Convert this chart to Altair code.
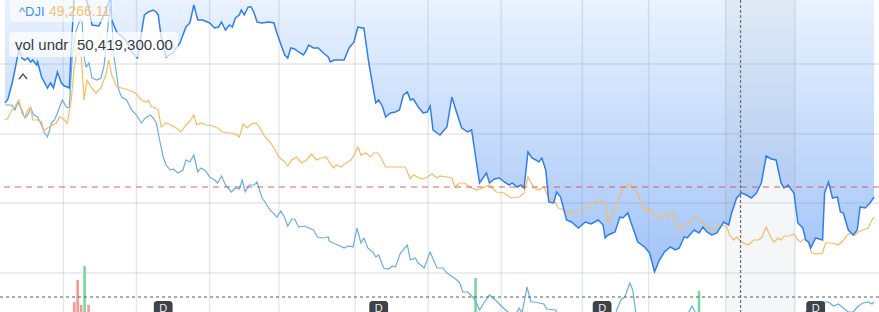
import altair as alt
import pandas as pd

W, H = 879, 312

# ---- series (x = session position, y = level, 0 = top) ----
dji_x = [0, 3, 8, 14, 17, 20, 23, 26, 28, 32, 33, 37, 43, 46, 49, 53, 57, 60, 63, 65,
         70, 78, 84, 88, 95, 100, 103, 107, 108, 113, 122, 128, 134, 138, 141, 145, 150,
         153, 155, 158, 163, 170, 177, 183, 187, 191, 195, 200, 207, 212, 216, 219, 223,
         227, 230, 233, 237, 239, 242, 246, 249, 252, 255, 260, 267, 272, 275, 280, 283,
         286, 289, 293, 297, 302, 305, 307, 312, 317, 322, 327, 329, 333, 343, 348, 353,
         357, 361, 363, 368, 375, 378, 382, 385, 390, 395, 399, 403, 407, 410, 413, 418,
         423, 427, 430, 433, 437, 440, 447, 452, 457, 462, 468, 472, 475, 480, 487, 490,
         495, 500, 505, 510, 513, 518, 522, 525, 529, 533, 537, 540, 543, 547, 550, 555,
         558, 562, 568, 573, 580, 587, 593, 600, 605, 607, 610, 617, 622, 625, 630, 633,
         637, 640, 647, 652, 657, 662, 667, 673, 678, 682, 687, 690, 697, 702, 706, 710,
         715, 720, 727, 732, 735, 740, 745, 750, 755, 760, 765, 770, 775, 780, 785, 788,
         792, 798, 802, 807, 810, 813, 815, 820, 827, 829, 833, 837, 842, 845, 848, 853,
         858, 862, 865, 870, 875, 879]
dji_y = [103, 99, 80, 50, 58, 60, 58, 62, 60, 65, 62, 77, 88, 83, 88, 72, 83, 86, 87, 88,
         -5, -12, 5, 25, 26, 15, 8, -3, 20, 32, 40, 52, 58, 33, 15, 12, 10,
         12, 15, 37, 57, 53, 43, 27, 23, 5, 20, 20, 23, 28, 27, 22, 30,
         25, 27, 18, 15, 10, 15, 7, 7, 13, 22, 23, 22, 23, 33, 47, 55,
         58, 48, 49, 52, 55, 50, 45, 48, 48, 53, 57, 62, 60, 60, 48, 42,
         27, 28, 28, 63, 103, 100, 107, 117, 113, 112, 110, 95, 92, 100, 99, 107,
         113, 112, 106, 130, 133, 135, 127, 97, 113, 128, 132, 130, 150, 183, 173, 183,
         179, 178, 182, 185, 183, 187, 185, 188, 152, 158, 160, 162, 158, 170, 202, 203,
         192, 197, 220, 222, 228, 222, 224, 220, 225, 238, 235, 232, 217, 218, 213, 222,
         233, 242, 247, 253, 272, 260, 252, 247, 250, 248, 237, 238, 230, 233, 227, 232,
         235, 233, 222, 225, 213, 198, 193, 195, 198, 193, 183, 156, 159, 160, 183, 188,
         185, 193, 223, 228, 240, 242, 248, 238, 240, 193, 182, 198, 197, 212, 213, 230,
         235, 230, 207, 208, 203, 197]

orange_x = [0, 3, 7, 10, 14, 17, 20, 23, 26, 28, 33, 37, 39, 43, 48, 52, 55, 58, 63, 67,
            70, 73, 77, 80, 83, 87, 92, 97, 102, 105, 108, 113, 118, 125, 132, 138, 143,
            145, 148, 150, 155, 158, 163, 168, 173, 178, 183, 188, 191, 194, 198, 203,
            210, 215, 220, 227, 233, 237, 241, 245, 249, 254, 258, 263, 268, 272, 277,
            282, 286, 290, 295, 300, 305, 310, 315, 320, 325, 328, 332, 335, 340, 345,
            350, 353, 357, 360, 365, 370, 373, 377, 380, 385, 395, 405, 410, 413, 422,
            427, 432, 437, 440, 447, 452, 455, 460, 465, 470, 477, 483, 490, 497, 505,
            512, 520, 525, 529, 535, 540, 545, 550, 555, 560, 565, 572, 577, 582, 587,
            590, 593, 597, 602, 607, 610, 615, 620, 625, 628, 632, 635, 640, 643, 648,
            652, 657, 662, 667, 670, 675, 678, 681, 685, 690, 695, 700, 705, 710, 715,
            720, 725, 730, 733, 737, 740, 743, 747, 752, 757, 762, 765, 770, 775, 778,
            782, 785, 788, 793, 798, 802, 805, 808, 812, 816, 822, 827, 830, 837, 843,
            848, 852, 855, 860, 863, 868, 873, 877, 879]
orange_y = [120, 118, 110, 107, 100, 113, 117, 110, 107, 120, 120, 122, 130, 128, 125, 123, 117, 118, 123, 100,
            67, 53, 55, 100, 80, 87, 93, 88, 75, 60, 75, 87, 88, 90, 93, 100, 102,
            100, 107, 107, 110, 127, 123, 125, 128, 132, 125, 120, 115, 125, 123, 125,
            126, 128, 132, 133, 134, 137, 124, 128, 124, 123, 128, 137, 142, 148, 157,
            161, 166, 160, 157, 163, 160, 154, 160, 158, 157, 162, 168, 165, 167, 163,
            160, 155, 147, 155, 153, 157, 153, 153, 157, 167, 167, 167, 179, 175, 179,
            177, 174, 178, 176, 177, 178, 187, 183, 183, 187, 190, 188, 185, 192, 193,
            198, 197, 193, 177, 188, 190, 187, 198, 200, 208, 210, 213, 212, 212, 208,
            207, 203, 202, 200, 203, 222, 213, 200, 188, 187, 183, 188, 193, 203, 212,
            208, 215, 217, 215, 217, 212, 220, 230, 227, 225, 218, 218, 222, 227, 230,
            228, 225, 227, 235, 240, 237, 240, 243, 245, 240, 240, 238, 227, 238, 242,
            238, 240, 236, 236, 234, 240, 242, 239, 242, 253, 254, 253, 243, 243, 245,
            240, 235, 233, 235, 232, 230, 228, 220, 217]

lblue_x = [0, 3, 7, 10, 13, 17, 20, 23, 26, 29, 33, 37, 40, 43, 47, 50, 53, 58, 62, 65,
           68, 72, 76, 78, 80, 82, 85, 88, 93, 97, 100, 103, 106, 108, 110, 113, 115, 118,
           123, 128, 133, 138, 142, 147, 150, 153, 157, 160, 163, 167, 170, 175, 180, 183,
           187, 191, 195, 198, 203, 207, 212, 215, 219, 223, 229, 233, 237, 240, 243, 247,
           252, 255, 260, 263, 268, 275, 279, 283, 286, 290, 293, 297, 303, 312, 316, 322,
           327, 328, 332, 337, 343, 347, 352, 356, 360, 363, 367, 372, 375, 378, 383, 388,
           392, 395, 400, 407, 410, 415, 418, 424, 430, 437, 443, 447, 453, 457, 460, 463,
           468, 473, 477, 480, 485, 490, 497, 503, 510, 517, 520, 523, 528, 532, 537, 540,
           545, 548, 557, 560, 580, 600, 615, 618, 623, 627, 632, 635, 638, 645, 670, 690,
           695, 698, 705, 750, 800, 810, 820, 828, 833, 838, 843, 848, 853, 858, 863, 868,
           873, 877, 879]
lblue_y = [105, 105, 105, 110, 102, 110, 118, 115, 108, 115, 117, 125, 133, 137, 123, 120, 113, 100, 107, 108,
           57, 30, 20, 22, 57, 67, 63, 78, 80, 78, 67, 40, 5, 20, 55, 75, 90, 97,
           100, 110, 115, 123, 118, 115, 118, 123, 143, 157, 165, 170, 169, 173, 170, 160,
           162, 155, 172, 168, 171, 177, 180, 183, 176, 185, 192, 188, 189, 180, 192, 185,
           185, 182, 198, 202, 210, 217, 211, 218, 226, 219, 219, 227, 226, 230, 237, 238,
           237, 241, 243, 245, 248, 246, 247, 228, 243, 238, 248, 252, 257, 255, 268, 269,
           266, 267, 253, 245, 260, 258, 263, 268, 252, 268, 268, 273, 277, 280, 283, 292,
           292, 297, 303, 310, 302, 295, 301, 307, 313, 314, 308, 313, 287, 302, 302, 303,
           304, 309, 310, 316, 325, 320, 318, 312, 300, 297, 283, 290, 312, 325, 325, 315,
           306, 312, 325, 330, 325, 312, 306, 302, 302, 306, 304, 308, 312, 312, 306, 303,
           302, 304, 302]

# volume (millions) and direction
vol_x = [70, 73.5, 77, 80.5, 84.5, 476, 702]
vol_m = [5, 16, 3.5, 23, 3.5, 17, 10.5]
vol_dir = ["down", "down", "down", "up", "down", "up", "up"]

# dividend markers
div_x = [160, 378, 604, 820]
div_label = ["D", "D", "D", "D"]

# grid positions
grid_x = [59, 133, 207, 277, 354, 428, 502, 584, 651, 729, 799]
grid_y = [64, 134, 203, 273]

prev_close = [187]
vol_ref = [297]
cross_x = [744]
hl_start, hl_end = [729], [799]

legend_sym = "^DJI"
legend_price = "49,266.11"
vol_label = "vol undr"
vol_value = "50,419,300.00"

FONT = "Liberation Sans"

dji = pd.DataFrame({"x": dji_x, "v": dji_y})
orange = pd.DataFrame({"x": orange_x, "v": orange_y})
lblue = pd.DataFrame({"x": lblue_x, "v": lblue_y})
vol = pd.DataFrame({"x": vol_x, "vol": vol_m, "dir": vol_dir})
divs = pd.DataFrame({"x": div_x, "t": div_label})
one = pd.DataFrame({"a": [0]})

xs = alt.Scale(domain=[0, W], nice=False, zero=False)
ys = alt.Scale(domain=[0, H], reverse=True, nice=False, zero=False)
X = alt.X("x:Q", scale=xs, axis=None)
Y = alt.Y("v:Q", scale=ys, axis=None)

grad = alt.Gradient(
    gradient="linear",
    stops=[alt.GradientStop(color="#ecf4fe", offset=0),
           alt.GradientStop(color="#a2c4f8", offset=1)],
    x1=0, x2=0, y1=0, y2=1,
)

area = alt.Chart(dji).mark_area(clip=True, fill=grad).encode(x=X, y=Y, y2=alt.value(0))

gh = alt.Chart(pd.DataFrame({"v": grid_y})).mark_rule(
    color="#8a95aa", opacity=0.22, strokeWidth=1.5).encode(y=Y)
gv = alt.Chart(pd.DataFrame({"x": grid_x})).mark_rule(
    color="#8a95aa", opacity=0.22, strokeWidth=1.5).encode(x=X)

band = alt.Chart(pd.DataFrame({"x": hl_start, "x2": hl_end})).mark_rect(
    color="#8c96aa", opacity=0.09).encode(x=X, x2="x2:Q", y=alt.value(0), y2=alt.value(H))

l_lb = alt.Chart(lblue).mark_line(clip=True, color="#6aaee3", strokeWidth=1.2).encode(x=X, y=Y)
l_or = alt.Chart(orange).mark_line(clip=True, color="#f6bb63", strokeWidth=1.2).encode(x=X, y=Y)
l_dj = alt.Chart(dji).mark_line(clip=True, color="#2f7ef2", strokeWidth=1.5).encode(x=X, y=Y)

bars = alt.Chart(vol).mark_bar(size=2.6, opacity=0.85).encode(
    x=X,
    y=alt.Y("vol:Q", scale=alt.Scale(domain=[0, 156], nice=False), axis=None),
    color=alt.Color("dir:N", scale=alt.Scale(domain=["down", "up"], range=["#f4857c", "#62cf8f"]), legend=None),
)

r_prev = alt.Chart(pd.DataFrame({"v": prev_close})).mark_rule(
    color="#d2504f", opacity=0.9, strokeWidth=1.2, strokeDash=[6, 5]).encode(y=Y)
r_vol = alt.Chart(pd.DataFrame({"v": vol_ref})).mark_rule(
    color="#555a62", strokeWidth=1, strokeDash=[3, 3]).encode(y=Y)
r_cross = alt.Chart(pd.DataFrame({"x": cross_x})).mark_rule(
    color="#70757d", strokeWidth=1.3, strokeDash=[3, 2]).encode(x=X)

d_box = alt.Chart(divs).transform_calculate(
    x0="datum.x - 9.5", x1="datum.x + 9.5"
).mark_rect(color="#3e4249", cornerRadius=3).encode(
    x=alt.X("x0:Q", scale=xs, axis=None), x2="x1:Q", y=alt.value(301), y2=alt.value(324))
d_txt = alt.Chart(divs).mark_text(
    color="#eeeeee", font=FONT, fontSize=11, baseline="alphabetic", align="center").encode(
    x=X, y=alt.value(311.5), text="t:N")

box1 = alt.Chart(one).mark_rect(color="white", opacity=0.62, cornerRadius=4).encode(
    x=alt.value(10), x2=alt.value(113), y=alt.value(-5), y2=alt.value(22))
box2 = alt.Chart(one).mark_rect(color="white", opacity=0.72, cornerRadius=4).encode(
    x=alt.value(9), x2=alt.value(178), y=alt.value(32), y2=alt.value(57))
t1 = alt.Chart(one).mark_text(text=legend_sym, font=FONT, fontSize=13, color="#4a8cf0",
                              align="left", baseline="middle").encode(x=alt.value(19), y=alt.value(12))
t2 = alt.Chart(one).mark_text(text=legend_price, font=FONT, fontSize=14, color="#f7bf72",
                              align="left", baseline="middle").encode(x=alt.value(49), y=alt.value(12))
t3 = alt.Chart(one).mark_text(text=vol_label, font=FONT, fontSize=15, color="#3a3c40",
                              align="left", baseline="middle").encode(x=alt.value(15), y=alt.value(45))
t4 = alt.Chart(one).mark_text(text=vol_value, font=FONT, fontSize=15, color="#3a3c40",
                              align="left", baseline="middle").encode(x=alt.value(77), y=alt.value(45))
chev = alt.Chart(one).mark_point(
    shape="M -1 0.6 L 0 -0.6 L 1 0.6", filled=False, size=64, strokeWidth=1.5,
    color="#55585e", opacity=1).encode(x=alt.value(23), y=alt.value(76.5))

chart = alt.layer(
    area, gh, gv, band, l_lb, l_or, l_dj, bars, r_prev, r_vol, r_cross,
    d_box, d_txt, box1, box2, t1, t2, t3, t4, chev
).resolve_scale(y="independent").properties(
    width=W, height=H, padding=0, autosize=alt.AutoSizeParams(type="none"), background="white"
).configure_view(stroke=None)

chart.save("out.html", embed_options={"renderer": "svg", "actions": False})
